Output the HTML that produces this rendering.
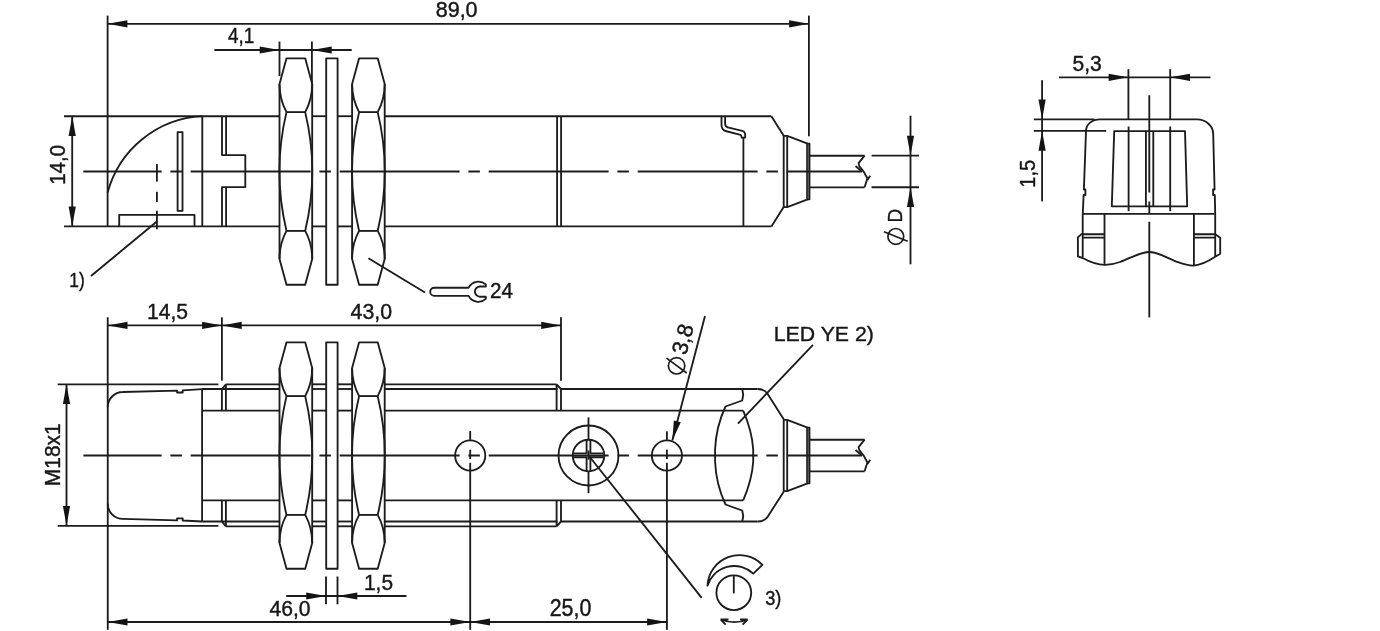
<!DOCTYPE html>
<html><head><meta charset="utf-8"><style>
html,body{margin:0;padding:0;background:#fff;}
svg{display:block;}
</style></head><body>
<svg width="1380" height="631" viewBox="0 0 1380 631" style="will-change:transform">
<rect width="1380" height="631" fill="#fff"/>
<g fill="none" stroke="#1c1c1c" stroke-width="1.85" stroke-linejoin="round">
<line x1="107.6" y1="15.6" x2="107.6" y2="190.4"/>
<line x1="808.9" y1="15.6" x2="808.9" y2="136.3"/>
<line x1="107.6" y1="23.8" x2="808.9" y2="23.8"/>
<line x1="214.4" y1="50" x2="351.7" y2="50"/>
<line x1="279.5" y1="41.6" x2="279.5" y2="76"/>
<line x1="311.9" y1="41.6" x2="311.9" y2="84"/>
<line x1="72.2" y1="116.2" x2="72.2" y2="226.4"/>
<line x1="64" y1="116.2" x2="279.5" y2="116.2"/>
<line x1="312.2" y1="116.2" x2="326.2" y2="116.2"/>
<line x1="337.6" y1="116.2" x2="352.1" y2="116.2"/>
<line x1="384.7" y1="116.2" x2="771.4" y2="116.2"/>
<line x1="64" y1="226.4" x2="279.5" y2="226.4"/>
<line x1="312.2" y1="226.4" x2="326.2" y2="226.4"/>
<line x1="337.6" y1="226.4" x2="352.1" y2="226.4"/>
<line x1="384.7" y1="226.4" x2="771.4" y2="226.4"/>
<line x1="107.6" y1="190.4" x2="107.6" y2="226.4"/>
<path d="M107.6,192.6A103.4,103.4 0 0 1 202.3,116.1"/>
<line x1="202.3" y1="116.2" x2="202.3" y2="226.4"/>
<path d="M222,116.2V155.1H245.3V187.1H222V226.4"/>
<line x1="226.1" y1="116.2" x2="226.1" y2="155.1"/>
<line x1="226.1" y1="187.1" x2="226.1" y2="226.4"/>
<path d="M177.6,132.1H182.5V210.8H177.6Z"/>
<path d="M119.2,226.4V214.8H194.5V226.4"/>
<line x1="156.9" y1="164.1" x2="156.9" y2="181.6"/>
<line x1="156.9" y1="191.8" x2="156.9" y2="201.9"/>
<line x1="156.9" y1="210.8" x2="156.9" y2="229.2"/>
<line x1="156.6" y1="221.7" x2="91" y2="276"/>
<path d="M286.5,58.3H305.2L312.2,84.1V258.9L305.2,284.7H286.5L279.5,258.9V84.1Z"/>
<line x1="286.5" y1="112.1" x2="305.2" y2="112.1"/>
<line x1="286.5" y1="230.9" x2="305.2" y2="230.9"/>
<path d="M286.5,112.1A255.53,255.53 0 0 0 286.5,230.9"/>
<path d="M305.2,112.1A255.53,255.53 0 0 1 305.2,230.9"/>
<path d="M279.5,84.1Q279.5,99.5 286.5,112.1"/>
<path d="M312.2,84.1Q312.2,99.5 305.2,112.1"/>
<path d="M279.5,258.9Q279.5,243.5 286.5,230.9"/>
<path d="M312.2,258.9Q312.2,243.5 305.2,230.9"/>
<path d="M326.2,58.3H337.6V284.7H326.2Z"/>
<path d="M359.1,58.3H377.7L384.7,84.1V258.9L377.7,284.7H359.1L352.1,258.9V84.1Z"/>
<line x1="359.1" y1="112.1" x2="377.7" y2="112.1"/>
<line x1="359.1" y1="230.9" x2="377.7" y2="230.9"/>
<path d="M359.1,112.1A255.53,255.53 0 0 0 359.1,230.9"/>
<path d="M377.7,112.1A255.53,255.53 0 0 1 377.7,230.9"/>
<path d="M352.1,84.1Q352.1,99.5 359.1,112.1"/>
<path d="M384.7,84.1Q384.7,99.5 377.7,112.1"/>
<path d="M352.1,258.9Q352.1,243.5 359.1,230.9"/>
<path d="M384.7,258.9Q384.7,243.5 377.7,230.9"/>
<line x1="557.1" y1="116.2" x2="557.1" y2="226.4"/>
<line x1="561.1" y1="116.2" x2="561.1" y2="226.4"/>
<path d="M721.5,116.2V124.6C721.5,128.5 722.5,130.3 725.5,131L740.5,134.8C741.5,135.2 741.6,136.5 741.6,137.6H745.2V135.5C745.2,132.8 744,131.3 742.3,130.9L727.7,127.3C725.6,126.8 725.1,125.5 725.1,123.5V116.2"/>
<line x1="743.4" y1="137.6" x2="743.4" y2="226.4"/>
<path d="M771.4,116.2L783.7,135.8"/>
<path d="M771.4,226.4L783.7,207"/>
<path d="M783.7,135.9H787.2V207.1H783.7Z"/>
<path d="M787.2,135.9L807.6,143.7"/>
<path d="M787.2,207.1L807.6,199.3"/>
<rect x="806.9" y="143.5" width="2.8" height="56" fill="#555" stroke-width="1.4"/>
<line x1="809.6" y1="155.7" x2="864.6" y2="155.7"/>
<line x1="809.6" y1="187.3" x2="864.6" y2="187.3"/>
<path d="M864.6,155.7L858.6,163.1L859.3,166.1L864,172.1L867.4,178.5L864.6,187.3"/>
<path d="M855.5,166L861,170.7"/>
<path d="M870.2,175.7L867.4,180"/>
<line x1="871.6" y1="155.6" x2="919" y2="155.6"/>
<line x1="871.6" y1="187.2" x2="919" y2="187.2"/>
<line x1="910.5" y1="115.7" x2="910.5" y2="264.3"/>
<circle cx="895.8" cy="236.4" r="7.9" stroke-width="1.7"/>
<line x1="884" y1="231.7" x2="907.7" y2="241.2" stroke-width="1.7"/>
<line x1="83.3" y1="171.5" x2="862" y2="171.5" stroke-dasharray="119.9 8.8 11.5 8.8" stroke-dashoffset="41.6"/>
<line x1="368.4" y1="258.3" x2="425" y2="292.5"/>
<path d="M468.6,287.7A11,11 0 0 1 485.8,284.4V286.5H480A5.1,5.1 0 0 0 480,296.7H485.8V298.9A11,11 0 0 1 468.6,295.9H434.3A4.1,4.1 0 0 1 434.3,287.7Z"/>
<line x1="1059" y1="77.3" x2="1210.4" y2="77.3"/>
<line x1="1128.4" y1="69.2" x2="1128.4" y2="119.4"/>
<line x1="1170.2" y1="69.2" x2="1170.2" y2="119.4"/>
<line x1="1042.1" y1="80.2" x2="1042.1" y2="201.4"/>
<line x1="1033.8" y1="119.4" x2="1094.4" y2="119.4"/>
<line x1="1033.8" y1="130.9" x2="1106.2" y2="130.9"/>
<path d="M1086,131.3C1086,124 1092,119.4 1100.3,119.4H1197C1206,119.4 1213.2,126 1213.2,134L1214.6,189.5H1213.1V195H1214.8L1215.2,213.9"/>
<path d="M1086,131.3L1083.9,189.5H1085.4V195H1083.6L1082.8,213.9"/>
<line x1="1082.7" y1="213.9" x2="1214.5" y2="213.9"/>
<path d="M1114.2,131.1H1185L1187.2,206.3H1111.8Z"/>
<line x1="1128.6" y1="126.5" x2="1128.6" y2="211.2"/>
<line x1="1170.2" y1="126.5" x2="1170.2" y2="211.2"/>
<line x1="1145.9" y1="131.1" x2="1145.9" y2="206.3"/>
<line x1="1153.3" y1="131.1" x2="1153.3" y2="206.3"/>
<line x1="1149.3" y1="95.3" x2="1149.3" y2="317.4" stroke-dasharray="119.9 8.8 11.5 8.8" stroke-dashoffset="22.6"/>
<line x1="1082.7" y1="213.9" x2="1082.7" y2="257"/>
<line x1="1104.5" y1="213.9" x2="1104.5" y2="264.8"/>
<line x1="1193.9" y1="213.9" x2="1193.9" y2="265.3"/>
<line x1="1215.2" y1="213.9" x2="1215.2" y2="256.8"/>
<path d="M1082.7,234.2H1104.5M1082.7,237.6H1104.5"/>
<path d="M1193.9,234.2H1215.2M1193.9,237.6H1215.2"/>
<path d="M1082,233.6L1077.9,237.4V256.4L1082.7,258C1090,262 1097,264.8 1104.5,264.9C1109,265 1113,264.5 1120,262C1130,258.5 1140,252 1149.3,252C1158.5,252 1168,258.5 1178,262.2C1185,264.8 1189,265.8 1193.9,265.6C1201,265 1208,261.5 1215.2,256.8L1220.2,253.7V237.8L1215.2,234.2"/>
<line x1="107.7" y1="325.4" x2="561" y2="325.4"/>
<line x1="107.7" y1="317.3" x2="107.7" y2="400"/>
<line x1="221.9" y1="317.3" x2="221.9" y2="380.7"/>
<line x1="561" y1="317.3" x2="561" y2="380.7"/>
<line x1="57.7" y1="384.3" x2="218.4" y2="384.3"/>
<line x1="57.7" y1="525.8" x2="218.4" y2="525.8"/>
<line x1="66.5" y1="384.3" x2="66.5" y2="525.8"/>
<path d="M107.75,407.3A15,15 0 0 1 122.75,392L177.1,390.6V392.5H182.7V390.4L202.1,389.1"/>
<path d="M107.75,503.5A15,15 0 0 0 122.75,518.9L177.1,520.4V518.4H182.7V520.5L202.1,521.5"/>
<line x1="107.75" y1="400" x2="107.75" y2="629.8"/>
<line x1="202.1" y1="389" x2="202.1" y2="521.5"/>
<line x1="202.1" y1="389" x2="279.5" y2="389"/>
<line x1="312.2" y1="389" x2="326.2" y2="389"/>
<line x1="337.6" y1="389" x2="352.1" y2="389"/>
<line x1="384.7" y1="389" x2="557.5" y2="389"/>
<line x1="202.1" y1="521.5" x2="279.5" y2="521.5"/>
<line x1="312.2" y1="521.5" x2="326.2" y2="521.5"/>
<line x1="337.6" y1="521.5" x2="352.1" y2="521.5"/>
<line x1="384.7" y1="521.5" x2="557.5" y2="521.5"/>
<line x1="225.9" y1="384.3" x2="279.5" y2="384.3"/>
<line x1="312.2" y1="384.3" x2="326.2" y2="384.3"/>
<line x1="337.6" y1="384.3" x2="352.1" y2="384.3"/>
<line x1="384.7" y1="384.3" x2="556.6" y2="384.3"/>
<line x1="225.9" y1="526.3" x2="279.5" y2="526.3"/>
<line x1="312.2" y1="526.3" x2="326.2" y2="526.3"/>
<line x1="337.6" y1="526.3" x2="352.1" y2="526.3"/>
<line x1="384.7" y1="526.3" x2="556.6" y2="526.3"/>
<line x1="202.1" y1="410.6" x2="279.5" y2="410.6"/>
<line x1="312.2" y1="410.6" x2="326.2" y2="410.6"/>
<line x1="337.6" y1="410.6" x2="352.1" y2="410.6"/>
<line x1="384.7" y1="410.6" x2="743.3" y2="410.6"/>
<line x1="202.1" y1="500.4" x2="279.5" y2="500.4"/>
<line x1="312.2" y1="500.4" x2="326.2" y2="500.4"/>
<line x1="337.6" y1="500.4" x2="352.1" y2="500.4"/>
<line x1="384.7" y1="500.4" x2="743.3" y2="500.4"/>
<path d="M221.9,410.6V389L225.9,384.3M225.9,384.3V410.6"/>
<path d="M221.9,500.4V521.5L225.9,526.3M225.9,526.3V500.4"/>
<path d="M556.6,384.3L561,389M561,389V410.6M556.6,384.3V410.6"/>
<path d="M556.6,526.3L561,521.5M561,521.5V500.4M556.6,526.3V500.4"/>
<line x1="561" y1="389" x2="757.7" y2="389"/>
<line x1="561" y1="521.5" x2="757.7" y2="521.5"/>
<path d="M286.5,342.3H305.2L312.2,368.1V542.9L305.2,568.7H286.5L279.5,542.9V368.1Z"/>
<line x1="286.5" y1="396.1" x2="305.2" y2="396.1"/>
<line x1="286.5" y1="514.9" x2="305.2" y2="514.9"/>
<path d="M286.5,396.1A255.53,255.53 0 0 0 286.5,514.9"/>
<path d="M305.2,396.1A255.53,255.53 0 0 1 305.2,514.9"/>
<path d="M279.5,368.1Q279.5,383.5 286.5,396.1"/>
<path d="M312.2,368.1Q312.2,383.5 305.2,396.1"/>
<path d="M279.5,542.9Q279.5,527.5 286.5,514.9"/>
<path d="M312.2,542.9Q312.2,527.5 305.2,514.9"/>
<path d="M326.2,342.3H337.6V568.7H326.2Z"/>
<path d="M359.1,342.3H377.7L384.7,368.1V542.9L377.7,568.7H359.1L352.1,542.9V368.1Z"/>
<line x1="359.1" y1="396.1" x2="377.7" y2="396.1"/>
<line x1="359.1" y1="514.9" x2="377.7" y2="514.9"/>
<path d="M359.1,396.1A255.53,255.53 0 0 0 359.1,514.9"/>
<path d="M377.7,396.1A255.53,255.53 0 0 1 377.7,514.9"/>
<path d="M352.1,368.1Q352.1,383.5 359.1,396.1"/>
<path d="M384.7,368.1Q384.7,383.5 377.7,396.1"/>
<path d="M352.1,542.9Q352.1,527.5 359.1,514.9"/>
<path d="M384.7,542.9Q384.7,527.5 377.7,514.9"/>
<circle cx="470.2" cy="455.5" r="15.1"/>
<circle cx="666.9" cy="455.5" r="15.1"/>
<line x1="470.2" y1="430.9" x2="470.2" y2="439.9"/>
<line x1="470.2" y1="449.7" x2="470.2" y2="459"/>
<line x1="470.2" y1="462.8" x2="470.2" y2="629.8"/>
<line x1="666.9" y1="431.4" x2="666.9" y2="439.9"/>
<line x1="666.9" y1="449.7" x2="666.9" y2="459"/>
<line x1="666.9" y1="462.8" x2="666.9" y2="629.8"/>
<circle cx="588.5" cy="455.5" r="30"/>
<circle cx="588.5" cy="455.5" r="15.8"/>
<line x1="588.5" y1="417.4" x2="588.5" y2="439.6"/>
<line x1="588.5" y1="471" x2="588.5" y2="493.2"/>
<line x1="588.5" y1="450.5" x2="588.5" y2="459.7"/>
<path d="M573.2,453.4H586.6V439.6M590.4,439.6V453.4H603.6M603.6,457.2H590.4V471M586.6,471V457.2H573.2"/>
<line x1="588.6" y1="455.5" x2="701.7" y2="597.8"/>
<path d="M757.7,389Q764,389 767.2,393.3L783.7,419.3"/>
<path d="M757.7,521.5Q764,521.5 767.2,517.4L783.7,491.7"/>
<path d="M783.7,419.9H787.2V491.1H783.7Z"/>
<path d="M787.2,419.9L807.6,427.7"/>
<path d="M787.2,491.1L807.6,483.3"/>
<rect x="806.9" y="427.5" width="2.8" height="56" fill="#555" stroke-width="1.4"/>
<line x1="809.6" y1="439.7" x2="864.6" y2="439.7"/>
<line x1="809.6" y1="471.3" x2="864.6" y2="471.3"/>
<path d="M864.6,439.7L858.6,447.1L859.3,450.1L864,456.1L867.4,462.5L864.6,471.3"/>
<path d="M855.5,450L861,454.7"/>
<path d="M870.2,459.7L867.4,464"/>
<path d="M742.3,389L743.2,395L742.2,400.5L725.5,406.5Q716,426.8 715.1,449.2V461.8Q716,484.2 725.5,504.5L742.2,510.5L743.2,516L742.3,521.5"/>
<path d="M743.2,410.6Q752,431 753.2,449.2V461.8Q752,480 743.2,500.4"/>
<line x1="738" y1="423.7" x2="813" y2="344.8"/>
<line x1="705" y1="316" x2="672.3" y2="440.6"/>
<circle cx="676.6" cy="365.8" r="8.2" stroke-width="1.7"/>
<line x1="666.5" y1="358.1" x2="686.7" y2="373" stroke-width="1.7"/>
<line x1="83.4" y1="455.5" x2="862" y2="455.5" stroke-dasharray="119.9 8.8 11.5 8.8" stroke-dashoffset="41.7"/>
<line x1="107.7" y1="622" x2="667.5" y2="622"/>
<line x1="286.2" y1="596" x2="406.5" y2="596"/>
<line x1="326" y1="576.5" x2="326" y2="604.3"/>
<line x1="337.5" y1="576.5" x2="337.5" y2="604.3"/>
<circle cx="733.8" cy="592.7" r="17.4"/>
<line x1="733.8" y1="575.5" x2="733.8" y2="593.4"/>
<path d="M707.5,585.6A32,32 0 0 1 762.4,564.8L753.3,573.6A28,28 0 0 0 707.5,585.6Z"/>
<path d="M721,619.3Q734.3,625 747.8,619.3M720.5,619.3H728.5M720.5,619.3L725.7,624.7M747.8,619.3H740M747.8,619.3L742.6,624.7"/>
</g>
<g fill="#141414">
<path d="M107.6,23.8L127.4,27.4L127.4,20.2Z"/>
<path d="M808.9,23.8L789.1,20.2L789.1,27.4Z"/>
<path d="M279.5,50L259.7,46.4L259.7,53.6Z"/>
<path d="M311.9,50L331.7,53.6L331.7,46.4Z"/>
<path d="M72.2,116.2L68.6,136L75.8,136Z"/>
<path d="M72.2,226.4L75.8,206.6L68.6,206.6Z"/>
<path d="M910.5,155.6L914.1,135.8L906.9,135.8Z"/>
<path d="M910.5,187.2L906.9,207L914.1,207Z"/>
<path d="M1128.4,77.3L1108.6,73.7L1108.6,80.9Z"/>
<path d="M1170.2,77.3L1190,80.9L1190,73.7Z"/>
<path d="M1042.1,119.4L1045.7,99.6L1038.5,99.6Z"/>
<path d="M1042.1,130.9L1038.5,150.7L1045.7,150.7Z"/>
<path d="M107.7,325.4L127.5,329L127.5,321.8Z"/>
<path d="M221.9,325.4L202.1,321.8L202.1,329Z"/>
<path d="M221.9,325.4L241.7,329L241.7,321.8Z"/>
<path d="M561,325.4L541.2,321.8L541.2,329Z"/>
<path d="M66.5,384.3L62.9,404.1L70.1,404.1Z"/>
<path d="M66.5,525.8L70.1,506L62.9,506Z"/>
<path d="M672.3,440.6L680.8,422.36L673.84,420.53Z"/>
<path d="M107.7,622L127.5,625.6L127.5,618.4Z"/>
<path d="M470.2,622L450.4,618.4L450.4,625.6Z"/>
<path d="M470.2,622L490,625.6L490,618.4Z"/>
<path d="M666.9,622L647.1,618.4L647.1,625.6Z"/>
<path d="M326,596L306.2,592.4L306.2,599.6Z"/>
<path d="M337.5,596L357.3,599.6L357.3,592.4Z"/>
</g>
<g fill="#161616" stroke="#161616" stroke-width="0.4" font-family="Liberation Sans, sans-serif">
<text x="-1" y="0" font-size="22" transform="translate(436.7 17.45) scale(0.9780 1.0233)">89,0</text>
<text x="-0" y="0" font-size="22" transform="translate(227.9 43.3) scale(0.8600 1.0000)">4,1</text>
<text x="-2" y="0" font-size="22" transform="translate(65 183) rotate(-90) scale(0.9325 1.0200)">14,0</text>
<text x="-2" y="0" font-size="22" transform="translate(70.9 287.3) scale(0.7937 0.9563)">1)</text>
<text x="-2" y="0" font-size="22" transform="translate(901.5 220.8) rotate(-90) scale(0.8692 0.9400)">D</text>
<text x="-1" y="0" font-size="22" transform="translate(490.9 297.7) scale(0.9391 0.9800)">24</text>
<text x="-1" y="0" font-size="22" transform="translate(1073.5 71.1) scale(0.9552 1.0400)">5,3</text>
<text x="-2" y="0" font-size="22" transform="translate(1035.4 185.9) rotate(-90) scale(0.9071 0.9933)">1,5</text>
<text x="-2" y="0" font-size="22" transform="translate(148.9 319) scale(0.9575 1.0000)">14,5</text>
<text x="-0" y="0" font-size="22" transform="translate(350.6 319) scale(0.9690 1.0200)">43,0</text>
<text x="-2" y="0" font-size="22" transform="translate(59.8 484.3) rotate(-90) scale(0.9540 0.9667)">M18x1</text>
<text x="-2" y="0" font-size="22" transform="translate(775.7 340.8) scale(0.9670 0.9438)">LED YE 2)</text>
<text x="-1" y="0" font-size="22" transform="translate(686.3 354.9) rotate(-74.75)">3,8</text>
<text x="-0" y="0" font-size="22" transform="translate(269.5 615.8) scale(0.9595 0.9733)">46,0</text>
<text x="-1" y="0" font-size="22" transform="translate(550.6 615.9) scale(0.9732 1.0467)">25,0</text>
<text x="-2" y="0" font-size="22" transform="translate(365.9 590) scale(0.9500 0.9800)">1,5</text>
<text x="-1" y="0" font-size="22" transform="translate(766 604.6) scale(0.8294 0.9500)">3)</text>
</g>
</svg>
</body></html>
